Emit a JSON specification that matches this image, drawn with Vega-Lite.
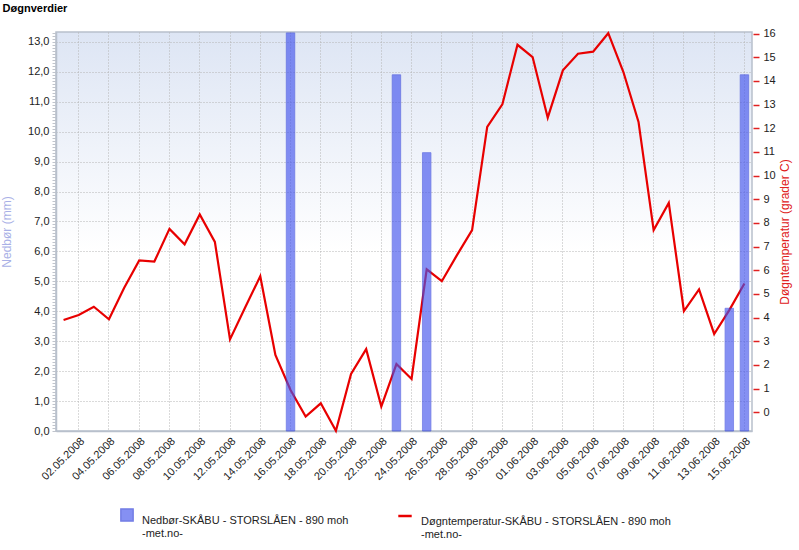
{
  "$schema": "https://vega.github.io/schema/vega-lite/v6.json",
  "autosize": {"type": "none"},
  "width": 696,
  "height": 399,
  "padding": {"left": 56, "top": 32, "right": 47, "bottom": 119},
  "background": "#ffffff",
  "title": {"text": "Døgnverdier", "anchor": "start", "fontSize": 11, "fontWeight": "bold", "font": "Liberation Sans", "color": "#000000", "offset": 14, "dx": 2},
  "config": {
    "font": "Liberation Sans",
    "view": {"stroke": "#b8c0cc", "strokeWidth": 1.5, "fill": {"gradient": "linear", "x1": 0, "y1": 0, "x2": 0, "y2": 1, "stops": [{"offset": 0, "color": "#dde5f4"}, {"offset": 0.55, "color": "#ffffff"}, {"offset": 1, "color": "#ffffff"}]}},
    "axis": {"labelFont": "Liberation Sans", "titleFont": "Liberation Sans", "labelFontSize": 11, "labelColor": "#222222", "titleFontWeight": "normal"}
  },
  "data": {"values": [
    {"d": "01.05.2008", "t": 3.90, "p": 0},
    {"d": "02.05.2008", "t": 4.11, "p": 0},
    {"d": "03.05.2008", "t": 4.46, "p": 0},
    {"d": "04.05.2008", "t": 3.93, "p": 0},
    {"d": "05.05.2008", "t": 5.25, "p": 0},
    {"d": "06.05.2008", "t": 6.42, "p": 0},
    {"d": "07.05.2008", "t": 6.37, "p": 0},
    {"d": "08.05.2008", "t": 7.75, "p": 0},
    {"d": "09.05.2008", "t": 7.10, "p": 0},
    {"d": "10.05.2008", "t": 8.36, "p": 0},
    {"d": "11.05.2008", "t": 7.20, "p": 0},
    {"d": "12.05.2008", "t": 3.08, "p": 0},
    {"d": "13.05.2008", "t": 4.43, "p": 0},
    {"d": "14.05.2008", "t": 5.75, "p": 0},
    {"d": "15.05.2008", "t": 2.42, "p": 0},
    {"d": "16.05.2008", "t": 0.94, "p": 13.3},
    {"d": "17.05.2008", "t": -0.18, "p": 0},
    {"d": "18.05.2008", "t": 0.38, "p": 0},
    {"d": "19.05.2008", "t": -0.78, "p": 0},
    {"d": "20.05.2008", "t": 1.62, "p": 0},
    {"d": "21.05.2008", "t": 2.67, "p": 0},
    {"d": "22.05.2008", "t": 0.24, "p": 0},
    {"d": "23.05.2008", "t": 2.04, "p": 11.9},
    {"d": "24.05.2008", "t": 1.41, "p": 0},
    {"d": "25.05.2008", "t": 6.04, "p": 9.3},
    {"d": "26.05.2008", "t": 5.54, "p": 0},
    {"d": "27.05.2008", "t": 6.64, "p": 0},
    {"d": "28.05.2008", "t": 7.70, "p": 0},
    {"d": "29.05.2008", "t": 12.06, "p": 0},
    {"d": "30.05.2008", "t": 13.01, "p": 0},
    {"d": "31.05.2008", "t": 15.53, "p": 0},
    {"d": "01.06.2008", "t": 15.01, "p": 0},
    {"d": "02.06.2008", "t": 12.45, "p": 0},
    {"d": "03.06.2008", "t": 14.45, "p": 0},
    {"d": "04.06.2008", "t": 15.15, "p": 0},
    {"d": "05.06.2008", "t": 15.24, "p": 0},
    {"d": "06.06.2008", "t": 16.02, "p": 0},
    {"d": "07.06.2008", "t": 14.38, "p": 0},
    {"d": "08.06.2008", "t": 12.27, "p": 0},
    {"d": "09.06.2008", "t": 7.70, "p": 0},
    {"d": "10.06.2008", "t": 8.85, "p": 0},
    {"d": "11.06.2008", "t": 4.28, "p": 0},
    {"d": "12.06.2008", "t": 5.19, "p": 0},
    {"d": "13.06.2008", "t": 3.31, "p": 0},
    {"d": "14.06.2008", "t": 4.32, "p": 4.1},
    {"d": "15.06.2008", "t": 5.44, "p": 11.9}
  ]},
  "encoding": {
    "x": {"field": "d", "type": "ordinal", "sort": null,
      "scale": {"type": "band", "paddingInner": 0.44, "paddingOuter": 0.22},
      "axis": {"title": null, "values": ["02.05.2008","04.05.2008","06.05.2008","08.05.2008","10.05.2008","12.05.2008","14.05.2008","16.05.2008","18.05.2008","20.05.2008","22.05.2008","24.05.2008","26.05.2008","28.05.2008","30.05.2008","01.06.2008","03.06.2008","05.06.2008","07.06.2008","09.06.2008","11.06.2008","13.06.2008","15.06.2008"],
        "bandPosition": 0.5, "labelAngle": -45, "labelAlign": "right", "labelBaseline": "top", "labelPadding": 4, "ticks": false,
        "domainColor": "#b8c0cc", "domainWidth": 1.5,
        "grid": true, "gridColor": "#b4b4b4", "gridDash": [1, 2], "gridWidth": 1}}
  },
  "layer": [
    {
      "mark": {"type": "line", "color": "#e80000", "strokeWidth": 2.2},
      "encoding": {
        "y": {"field": "t", "type": "quantitative",
          "scale": {"domain": [-0.79, 16.07], "nice": false, "zero": false},
          "axis": {"orient": "right", "values": [0,1,2,3,4,5,6,7,8,9,10,11,12,13,14,15,16], "grid": false, "domain": false,
            "tickColor": "#e02020", "tickSize": 6, "tickWidth": 1.5, "offset": 1, "labelPadding": 4,
            "title": "Døgntemperatur (grader C)", "titleColor": "#e02020", "titleFontSize": 12, "titleAngle": 270, "titleBaseline": "top", "titlePadding": 4}},
        "stroke": {"datum": "Døgntemperatur-SKÅBU - STORSLÅEN - 890 moh| -met.no-", "type": "nominal",
          "scale": {"range": ["#e80000"]},
          "legend": {"title": null, "orient": "none", "legendX": 341, "legendY": 476, "symbolType": "stroke", "symbolStrokeWidth": 2.5, "symbolSize": 180,
            "labelExpr": "split(datum.label, '|')", "labelFontSize": 11, "labelFont": "Liberation Sans", "labelColor": "#222222", "labelBaseline": "top", "labelOffset": 8, "labelLimit": 400}}
      }
    },
    {
      "transform": [{"filter": "datum.p > 0"}],
      "mark": {"type": "bar", "opacity": 0.65, "stroke": "#2a3ad8", "strokeWidth": 0.8},
      "encoding": {
        "y": {"field": "p", "type": "quantitative",
          "scale": {"domain": [0, 13.33], "nice": false},
          "axis": {"orient": "left", "tickCount": 133, "domainColor": "#b8c0cc", "domainWidth": 1.5,
            "labelExpr": "abs(datum.value - round(datum.value)) < 0.001 ? replace(format(datum.value, '.1f'), '.', ',') : ''",
            "tickColor": "#c0c4cc", "tickSize": 4, "labelPadding": 3,
            "grid": true, "gridColor": "#b4b4b4", "gridDash": [1, 2],
            "gridOpacity": {"condition": {"test": "abs(datum.value - round(datum.value)) < 0.001", "value": 1}, "value": 0},
            "title": "Nedbør (mm)", "titleColor": "#a9b0e6", "titleFontSize": 12, "titlePadding": 14}},
        "color": {"datum": "Nedbør-SKÅBU - STORSLÅEN - 890 moh| -met.no-", "type": "nominal",
          "scale": {"range": ["#4455ee"]},
          "legend": {"title": null, "orient": "none", "legendX": 64, "legendY": 476, "symbolType": "square", "symbolSize": 150,
            "labelExpr": "split(datum.label, '|')", "labelFontSize": 11, "labelFont": "Liberation Sans", "labelColor": "#222222", "labelBaseline": "top", "labelOffset": 8, "labelLimit": 400}}
      }
    }
  ],
  "resolve": {"scale": {"y": "independent", "color": "independent"}}
}
